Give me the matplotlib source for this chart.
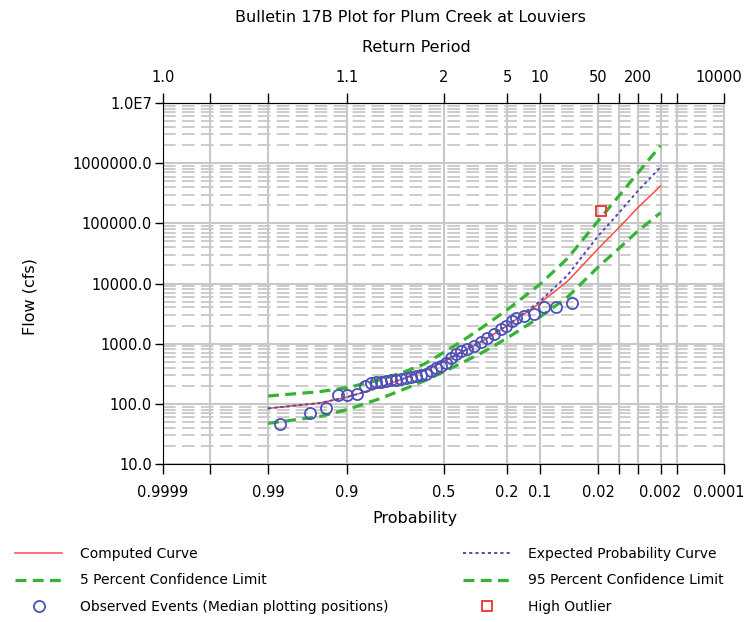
from statistics import NormalDist

import matplotlib
matplotlib.use("Agg")
import matplotlib.pyplot as plt
import matplotlib.transforms as mtransforms
from matplotlib.lines import Line2D
from matplotlib.ticker import FixedLocator, LogLocator, NullFormatter


# exceedance probabilities where the fitted curves were read
curve_prob = [0.99, 0.95, 0.9, 0.8, 0.7, 0.6, 0.5, 0.4, 0.3, 0.2,
              0.1, 0.05, 0.02, 0.01, 0.005, 0.002]
computed = [84, 103, 129, 188, 265, 359, 505, 738, 1120, 1980,
            4750, 10900, 38300, 84900, 181500, 418600]
expected = [84, 103, 129, 188, 265, 359, 505, 740, 1125, 2000,
            5110, 13700, 62500, 149600, 345000, 859000]
conf_05 = [135, 159, 185, 250, 339, 459, 711, 1120, 1906, 3630,
           9740, 26200, 110900, 286600, 686000, 1955000]
conf_95 = [47.4, 61.4, 80.1, 122, 175, 241, 339, 486, 724, 1233,
           2790, 5960, 18960, 38300, 74300, 150000]

# observed events (median plotting positions)
obs_prob = [0.9851, 0.9620, 0.9409, 0.9197, 0.9003, 0.8749, 0.8517, 0.8325,
            0.8154, 0.7970, 0.7778, 0.7574, 0.7363, 0.7140, 0.6911, 0.6671,
            0.6428, 0.6175, 0.5921, 0.5659, 0.5398, 0.5132, 0.4868, 0.4603,
            0.4341, 0.4079, 0.3773, 0.3425, 0.3090, 0.2816, 0.2508, 0.2222,
            0.2030, 0.1812, 0.1675, 0.1422, 0.1144, 0.0907, 0.0673, 0.0437]
obs_flow = [46, 71, 84, 138, 140, 146, 198, 224, 230, 232, 236, 245, 250,
            255, 265, 275, 286, 297, 314, 345, 387, 418, 486, 588, 684, 767,
            828, 928, 1050, 1256, 1462, 1767, 1982, 2395, 2700, 2900, 3093,
            4077, 4124, 4745]

outlier_prob = [0.0183]
outlier_flow = [162000]

tick_prob = [0.9999, 0.999, 0.99, 0.9, 0.5, 0.2, 0.1, 0.02, 0.01, 0.005,
             0.002, 0.001, 0.0001]
bottom_labels = ["0.9999", "", "0.99", "0.9", "0.5", "0.2", "0.1", "0.02",
                 "", "", "0.002", "", "0.0001"]
top_labels = ["1.0", "", "", "1.1", "2", "5", "10", "50", "", "200", "",
              "", "10000"]
flow_ticks = [10, 100, 1000, 10000, 100000, 1000000, 10000000]


def z(p):
    # normal probability paper: exceedance probability -> standard normal
    return [NormalDist().inv_cdf(1 - v) for v in p]


plt.rcParams['font.family'] = ['DejaVu Sans']
plt.rcParams['font.size'] = 11.5

W, H = 746, 622
fig = plt.figure(figsize=(W / 100, H / 100), dpi=100)
ax = fig.add_axes([163 / W, 1 - 464 / H, (724 - 163) / W, (464 - 103) / H])

grid_c = '#c8c8c8'
ax.set_yscale('log')
ax.set_ylim(10, 1e7)
ax.set_xlim(z([0.9999])[0], z([0.0001])[0])

ax.set_xticks(z(tick_prob))
ax.set_xticklabels(bottom_labels)
ax.yaxis.set_major_locator(FixedLocator(flow_ticks))
ax.set_yticklabels(["1.0E7" if v >= 1e7 else f"{v:.1f}" for v in flow_ticks])
ax.yaxis.set_minor_locator(LogLocator(base=10, subs=range(2, 10)))
ax.yaxis.set_minor_formatter(NullFormatter())

ax.grid(axis='x', which='major', color=grid_c, lw=1.5)
ax.grid(axis='y', which='major', color=grid_c, lw=1.5)
ax.grid(axis='y', which='minor', color=grid_c, lw=1.3, linestyle=(0, (7, 3.5)))
ax.set_axisbelow(True)

ax.tick_params(axis='x', direction='out', length=7, width=1, pad=8, labelsize=10.5)
ax.tick_params(axis='y', which='major', direction='out', length=6, width=1,
               pad=2, labelsize=10.5)
ax.tick_params(axis='y', which='minor', length=0)
ax.spines['right'].set_color(grid_c)

top = ax.secondary_xaxis('top')
top.set_xticks(z(tick_prob))
top.set_xticklabels(top_labels)
top.tick_params(direction='out', length=7, width=1, pad=6, labelsize=10.5)

# keep the right-most labels inside the picture
shift = mtransforms.ScaledTranslation(-5 / 100, 0, fig.dpi_scale_trans)
for lab in (ax.get_xticklabels()[-1], top.get_xticklabels()[-1]):
    lab.set_transform(lab.get_transform() + shift)

green = '#33b533'
ax.plot(z(curve_prob), conf_05, color=green, lw=2.3, linestyle=(0, (3.4, 2.0)))
ax.plot(z(curve_prob), conf_95, color=green, lw=2.3, linestyle=(0, (3.4, 2.0)))
ax.plot(z(curve_prob), computed, color='#ff4a4a', lw=1.1)
ax.plot(z(curve_prob), expected, color='#4c4cb4', lw=1.4, linestyle=(0, (1.6, 1.6)))
ax.plot(z(obs_prob), obs_flow, 'o', mfc='none', mec='#4c50b4', mew=1.3, ms=8)
ax.plot(z(outlier_prob), outlier_flow, 's', mfc='none', mec='#ee3333', mew=1.3, ms=7.5)

fig.text(410 / W, 1 - 18 / H, "Bulletin 17B Plot for Plum Creek at Louviers",
         ha='center', va='center')
fig.text(416 / W, 1 - 47 / H, "Return Period", ha='center', va='center')
fig.text(415 / W, 1 - 519 / H, "Probability", ha='center', va='center')
fig.text(30 / W, 1 - 297 / H, "Flow (cfs)", rotation=90, ha='center', va='center')

left_handles = [
    Line2D([], [], color='#ff4a4a', lw=1.1),
    Line2D([], [], color=green, lw=2.3, linestyle=(0, (3.4, 2.0))),
    Line2D([], [], marker='o', ls='none', mfc='none', mec='#4c50b4', mew=1.3, ms=8),
]
right_handles = [
    Line2D([], [], color='#4c4cb4', lw=1.4, linestyle=(0, (1.6, 1.6))),
    Line2D([], [], color=green, lw=2.3, linestyle=(0, (3.4, 2.0))),
    Line2D([], [], marker='s', ls='none', mfc='none', mec='#ee3333', mew=1.3, ms=7.5),
]
left_labels = ["Computed Curve", "5 Percent Confidence Limit",
               "Observed Events (Median plotting positions)"]
right_labels = ["Expected Probability Curve", "95 Percent Confidence Limit",
                "High Outlier"]

leg_kw = dict(loc='upper left', frameon=False, fontsize=10, handlelength=3.4,
              handletextpad=1.3, labelspacing=0.9, borderpad=0, borderaxespad=0)
fig.legend(left_handles, left_labels, bbox_to_anchor=(15 / W, 1 - 547 / H), **leg_kw)
fig.legend(right_handles, right_labels, bbox_to_anchor=(463 / W, 1 - 547 / H), **leg_kw)

fig.savefig("out.png", dpi=100)
